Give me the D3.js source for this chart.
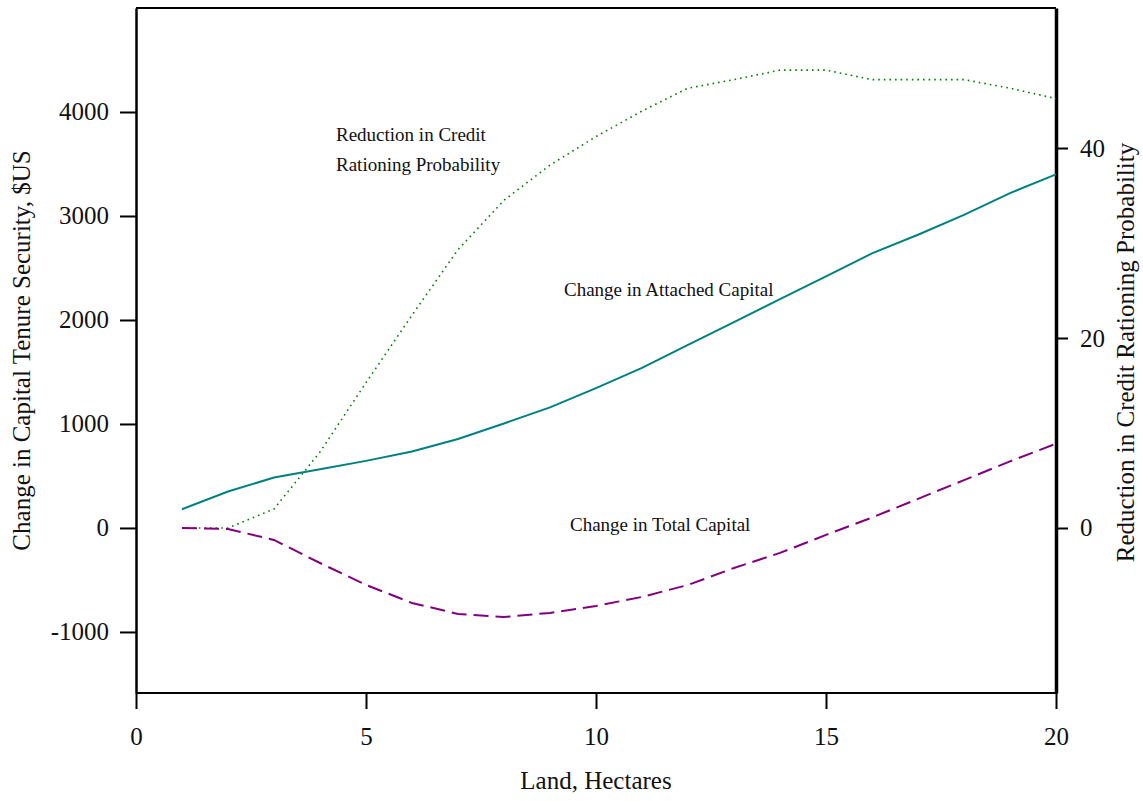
<!DOCTYPE html>
<html lang="en">
<head>
  <meta charset="UTF-8" />
  <title>Tenure security and capital</title>
  <script src="https://d3js.org/d3.v7.min.js"></script>
  <style>
    body { margin: 0; background: #fff; }
    svg { font-family: "Liberation Serif", "DejaVu Serif", serif; }
    .axis text { font-size: 25px; fill: #111; font-family: "Liberation Serif", serif; }
    .axis path, .axis line { stroke: #000; }
    .note { font-size: 19px; fill: #111; }
    .title { font-size: 25px; fill: #111; }
  </style>
</head>
<body>
  <svg width="1143" height="801"></svg>
  <script>
    // land size, hectares
    const land = [1, 2, 3, 4, 5, 6, 7, 8, 9, 10, 11, 12, 13, 14, 15, 16, 17, 18, 19, 20];
    // change in attached capital, $US (left axis)
    const attached = [180, 350, 485, 565, 645, 735, 855, 1005, 1160, 1345, 1540, 1760, 1980, 2200, 2420, 2640, 2820, 3010, 3220, 3400];
    // change in total capital, $US (left axis)
    const total = [0, -10, -115, -337, -548, -721, -827, -856, -817, -750, -663, -548, -385, -240, -67, 100, 280, 460, 640, 810];
    // reduction in credit rationing probability (right axis)
    const credit = [0, 0, 2, 8, 15.3, 22.4, 29.3, 34.5, 38.2, 41.2, 43.9, 46.3, 47.2, 48.2, 48.2, 47.2, 47.2, 47.2, 46.3, 45.2];

    const xTicks = [0, 5, 10, 15, 20];
    const leftTicks = [-1000, 0, 1000, 2000, 3000, 4000];
    const rightTicks = [0, 20, 40];

    const svg = d3.select("svg");
    const m = { left: 136, right: 1056, top: 8, bottom: 693 };

    const x = d3.scaleLinear().domain([0, 20]).range([m.left, m.right]);
    const yL = d3.scaleLinear().domain([-1587, 5000]).range([m.bottom, m.top]);
    const yR = d3.scaleLinear().domain([-17.37, 54.74]).range([m.bottom, m.top]);

    // frame top and bottom
    svg.append("line").attr("x1", m.left).attr("x2", m.right).attr("y1", m.top).attr("y2", m.top)
      .attr("stroke", "#000").attr("stroke-width", 2);
    svg.append("line").attr("x1", m.left).attr("x2", m.right).attr("y1", m.bottom).attr("y2", m.bottom)
      .attr("stroke", "#000").attr("stroke-width", 2);

    // plain hyphen for negatives, no thousands separator
    const fmt = d => String(d);

    // x axis
    const gx = svg.append("g").attr("class", "axis")
      .attr("transform", `translate(0,${m.bottom})`)
      .call(d3.axisBottom(x).tickValues(xTicks).tickFormat(fmt).tickSize(16).tickSizeOuter(0).tickPadding(18));
    gx.select(".domain").remove();

    // left axis
    const gl = svg.append("g").attr("class", "axis")
      .attr("transform", `translate(${m.left},0)`)
      .call(d3.axisLeft(yL).tickValues(leftTicks).tickFormat(fmt).tickSize(16).tickSizeOuter(0).tickPadding(11));
    gl.select(".domain").attr("stroke-width", 2.5);

    // right axis
    const gr = svg.append("g").attr("class", "axis")
      .attr("transform", `translate(${m.right},0)`)
      .call(d3.axisRight(yR).tickValues(rightTicks).tickFormat(fmt).tickSize(12).tickSizeOuter(0).tickPadding(12));
    gr.select(".domain").attr("stroke-width", 3.5);

    svg.selectAll(".axis").attr("font-family", null).attr("font-size", null);
    svg.selectAll(".axis line").attr("stroke-width", 2);

    // curves
    const lineL = d3.line().x((d, i) => x(land[i])).y(d => yL(d));
    const lineR = d3.line().x((d, i) => x(land[i])).y(d => yR(d));

    svg.append("path").datum(credit).attr("d", lineR)
      .attr("fill", "none").attr("stroke", "#008000").attr("stroke-width", 1.6)
      .attr("stroke-dasharray", "1.6,4");
    svg.append("path").datum(attached).attr("d", lineL)
      .attr("fill", "none").attr("stroke", "#008080").attr("stroke-width", 2);
    svg.append("path").datum(total).attr("d", lineL)
      .attr("fill", "none").attr("stroke", "#800080").attr("stroke-width", 2)
      .attr("stroke-dasharray", "15,7");

    // curve labels
    svg.append("text").attr("class", "note").attr("x", 336).attr("y", 141).text("Reduction in Credit");
    svg.append("text").attr("class", "note").attr("x", 336).attr("y", 171).text("Rationing Probability");
    svg.append("text").attr("class", "note").attr("x", 564).attr("y", 296).text("Change in Attached Capital");
    svg.append("text").attr("class", "note").attr("x", 570).attr("y", 531).text("Change in Total Capital");

    // axis titles
    svg.append("text").attr("class", "title").attr("text-anchor", "middle")
      .attr("x", x(10)).attr("y", 789).text("Land, Hectares");
    svg.append("text").attr("class", "title").attr("text-anchor", "middle")
      .attr("transform", `translate(30,${(m.top + m.bottom) / 2}) rotate(-90)`)
      .text("Change in Capital Tenure Security, $US");
    svg.append("text").attr("class", "title").attr("text-anchor", "middle")
      .attr("transform", `translate(1134,${(m.top + m.bottom) / 2 + 2}) rotate(-90)`)
      .text("Reduction in Credit Rationing Probability");
  </script>
</body>
</html>
